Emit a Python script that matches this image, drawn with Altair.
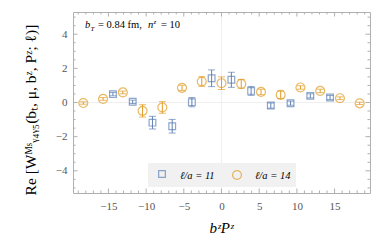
import altair as alt
import pandas as pd

# ---- data ----
orange_x = [-18.33, -15.71, -13.09, -10.47, -7.85, -5.24, -2.62, 0.0, 2.62, 5.24, 7.85, 10.47, 13.09, 15.71, 18.33]
orange_y = [-0.03, 0.21, 0.59, -0.49, -0.29, 0.86, 1.23, 1.13, 1.09, 0.62, 0.45, 0.88, 0.68, 0.25, -0.05]
orange_e = [0.07, 0.08, 0.08, 0.36, 0.34, 0.15, 0.28, 0.37, 0.26, 0.16, 0.22, 0.10, 0.10, 0.08, 0.07]

blue_x = [-14.40, -11.78, -9.16, -6.54, -3.93, -1.31, 1.31, 3.93, 6.54, 9.16, 11.78, 14.40]
blue_y = [0.49, 0.04, -1.18, -1.39, 0.02, 1.42, 1.33, 0.68, -0.18, -0.04, 0.39, 0.29]
blue_e = [0.10, 0.10, 0.37, 0.40, 0.27, 0.49, 0.44, 0.26, 0.15, 0.12, 0.12, 0.12]

x_labels = [-15, -10, -5, 0, 5, 10, 15]
y_labels = [-4, -2, 0, 2, 4]
x_minor = [v for v in range(-19, 20) if v % 5 != 0]
y_minor = [v / 2 for v in range(-10, 11) if v % 4 != 0]

BLUE = "#5E81B5"
ORANGE = "#E19C24"
FRAME = "#b0b0b0"
W, H = 297, 181
SERIF = "Liberation Serif"

xs = alt.Scale(domain=[-19.7, 19.7], nice=False, zero=False)
ys = alt.Scale(domain=[-5.3, 5.3], nice=False, zero=False)
AX = alt.Axis(values=x_labels, ticks=False, domain=False, grid=False,
              labelFont=SERIF, labelFontSize=11, labelColor="#555", labelPadding=7, title=None)
AY = alt.Axis(values=y_labels, ticks=False, domain=False, grid=False,
              labelFont=SERIF, labelFontSize=11, labelColor="#555", labelPadding=6, title=None)

def X(f):
    return alt.X(f, scale=xs, axis=AX)

def Y(f):
    return alt.Y(f, scale=ys, axis=AY)

def df(x, y, e):
    return pd.DataFrame({"x": x, "y": y, "lo": [a - b for a, b in zip(y, e)], "hi": [a + b for a, b in zip(y, e)]})

d_or = df(orange_x, orange_y, orange_e)
d_bl = df(blue_x, blue_y, blue_e)

zero_v = alt.Chart(pd.DataFrame({"x": [0]})).mark_rule(color="#efefef", strokeWidth=1).encode(x=X("x:Q"))
zero_h = alt.Chart(pd.DataFrame({"y": [0]})).mark_rule(color="#efefef", strokeWidth=1).encode(y=Y("y:Q"))

def xticks(vals, y0, y1):
    return alt.Chart(pd.DataFrame({"x": vals})).mark_rule(color=FRAME, strokeWidth=1).encode(
        x=X("x:Q"), y=alt.value(y0), y2=alt.value(y1))

def yticks(vals, x0, x1):
    return alt.Chart(pd.DataFrame({"y": vals})).mark_rule(color=FRAME, strokeWidth=1).encode(
        y=Y("y:Q"), x=alt.value(x0), x2=alt.value(x1))

ticks = [
    xticks(x_labels, H, H - 4.5), xticks(x_minor, H, H - 2.5),
    xticks(x_labels, 0, 4.5), xticks(x_minor, 0, 2.5),
    yticks(y_labels, 0, 4.5), yticks(y_minor, 0, 2.5),
    yticks(y_labels, W, W - 4.5), yticks(y_minor, W, W - 2.5),
]

def series(d, color, shape, size):
    bars = alt.Chart(d).mark_rule(color=color, strokeWidth=1).encode(
        x=X("x:Q"), y=Y("lo:Q"), y2="hi:Q")
    cap_lo = alt.Chart(d).mark_tick(color=color, orient="horizontal", size=7, thickness=1).encode(
        x=X("x:Q"), y=Y("lo:Q"))
    cap_hi = alt.Chart(d).mark_tick(color=color, orient="horizontal", size=7, thickness=1).encode(
        x=X("x:Q"), y=Y("hi:Q"))
    pts = alt.Chart(d).mark_point(shape=shape, filled=False, color=color, size=size, strokeWidth=1.2).encode(
        x=X("x:Q"), y=Y("y:Q"))
    return [bars, cap_lo, cap_hi, pts]

one = pd.DataFrame({"a": [0]})

def txt(s, x, y, size=11, style="normal", angle=0, align="left", color="black", baseline="alphabetic"):
    kw = dict(font=SERIF, fontSize=size, fontStyle=style, align=align, baseline=baseline, color=color)
    if angle:
        kw["angle"] = angle
    return alt.Chart(pd.DataFrame({"t": [s]})).mark_text(**kw).encode(
        x=alt.value(x), y=alt.value(y), text="t:N")

# legend
leg_box = alt.Chart(one).mark_rect(color="#f1f1f1").encode(
    x=alt.value(75), x2=alt.value(223), y=alt.value(151), y2=alt.value(175))
leg_sq = alt.Chart(one).mark_point(shape="square", filled=False, color=BLUE, size=45, strokeWidth=1.2).encode(
    x=alt.value(89), y=alt.value(162))
leg_ci = alt.Chart(one).mark_point(shape="circle", filled=False, color=ORANGE, size=80, strokeWidth=1.2).encode(
    x=alt.value(164), y=alt.value(163))

texts = [
    txt("ℓ/a = 11", 107, 167, size=10.5, style="italic"),
    txt("ℓ/a = 14", 182, 167, size=10.5, style="italic"),
    # annotation
    txt("b", 12, 16, size=10.5, style="italic"),
    txt("T", 17.5, 18.5, size=7, style="italic"),
    txt("= 0.84 fm,", 25, 16, size=10.5),
    txt("n", 75, 16, size=10.5, style="italic"),
    txt("z", 80.5, 11.5, size=7, style="italic"),
    txt("= 10", 88, 16, size=10.5),
    # axis titles
    txt("bᶻPᶻ", W / 2, 221, size=15, style="italic", align="center"),
    txt("Re [Wᴹˢᵧ₄ᵧ₅(bₜ, μ, bᶻ, Pᶻ; ℓ)]", -42, 98, size=15.5, angle=270, align="center",
        baseline="middle"),
]

layers = ([zero_v, zero_h] + ticks + series(d_bl, BLUE, "square", 45)
          + series(d_or, ORANGE, "circle", 80) + [leg_box, leg_sq, leg_ci] + texts)

chart = alt.layer(*layers).properties(
    width=W, height=H,
    autosize=alt.AutoSizeParams(type="none"),
    padding={"left": 65, "top": 4, "right": 4, "bottom": 42},
    background="white",
).configure_view(stroke=FRAME, strokeWidth=1)

chart.save("out.html", embed_options={"renderer": "svg", "actions": False})
